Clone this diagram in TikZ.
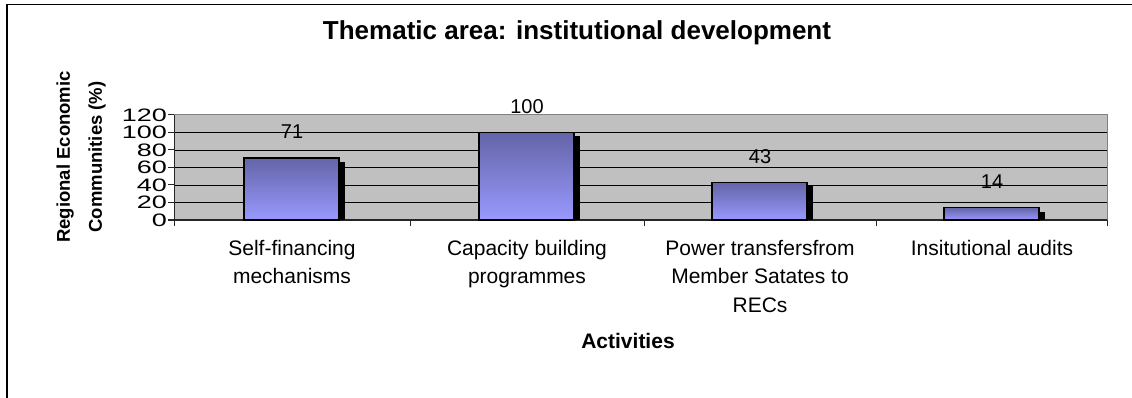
\documentclass[tikz,border=0pt]{standalone}
\usepackage{fontspec}
\usepackage{graphicx}
\setmainfont{Liberation Sans}
\definecolor{plotbg}{RGB}{192,192,192}
\definecolor{bartop}{RGB}{100,100,168}
\definecolor{barbot}{RGB}{153,153,255}
\definecolor{borderg}{RGB}{128,128,128}
\tikzset{
  gridline/.style={black, line width=0.9pt},
  axisline/.style={black!85, line width=1pt},
  barbox/.style={top color=bartop, bottom color=barbot, draw=black, line width=1.5pt},
  vallabel/.style={inner sep=0pt, font=\fontsize{20}{24}\selectfont},
  ticklabel/.style={inner sep=0pt, anchor=east, font=\fontsize{18}{20}\selectfont},
  catlabel/.style={inner sep=0pt, anchor=north, align=center, font=\fontsize{21}{28.5}\selectfont},
  titlelabel/.style={inner sep=0pt, anchor=base, font=\bfseries\fontsize{26}{30}\selectfont},
  axtitle/.style={inner sep=0pt, font=\bfseries\fontsize{21}{25}\selectfont},
  ytitle/.style={inner sep=0pt, rotate=90, align=center, font=\bfseries\fontsize{18.5}{32}\selectfont}
}
\begin{document}
\begin{tikzpicture}[x=1pt,y=-1pt]
\useasboundingbox (0,0) rectangle (1132,398);
\fill[white] (0,0) rectangle (1132,398);
% outer frame
\draw[line width=1.5pt] (7,398) -- (7,4.5) -- (1132,4.5);
% plot area
\fill[plotbg] (174,115) rectangle (1107,220);
\foreach \v in {20,40,60,80,100}
  \draw[gridline] (174,{220-0.875*\v}) -- (1107,{220-0.875*\v});
\draw[borderg, line width=1pt] (174,115) -- (1107,115) -- (1107,220);
\draw[axisline] (174,115) -- (174,220) -- (1107,220);
% y ticks and labels
\foreach \v in {0,20,40,60,80,100,120} {
  \draw[axisline] (168,{220-0.875*\v}) -- (174,{220-0.875*\v});
  \node[ticklabel] (t\v) at (167,{220-0.875*\v}) {\scalebox{1.5}[1]{\v}};
}
% x ticks
\foreach \x in {174,410,644,876,1107}
  \draw[axisline] (\x,220) -- (\x,226);
% bars
\foreach \c/\v/\n in {292/71/a,527/100/b,760/43/c,992/14/d} {
  \fill[black] (\c+47,{220-0.875*\v+4}) rectangle (\c+53,220);
  \shadedraw[barbox] (\c-48,{220-0.875*\v}) rectangle (\c+47,220);
  \node[vallabel, anchor=base] (v\n) at (\c,{220-0.875*\v-19}) {\v};
}
% category labels
\node[catlabel] (ca) at (292,240) {Self-financing\\mechanisms};
\node[catlabel] (cb) at (527,240) {Capacity building\\programmes};
\node[catlabel] (cc) at (760,240) {Power transfersfrom\\Member Satates to\\RECs};
\node[catlabel] (cd) at (992,240) {Insitutional audits};
% titles
\node[titlelabel] (title) at (577,40) {Thematic area: institutional development};
\node[axtitle, anchor=base] (xtitle) at (628,348) {Activities};
\node[ytitle] (ytitle) at (81,157) {Regional Economic\\Communities (\%)};
\end{tikzpicture}
\end{document}
